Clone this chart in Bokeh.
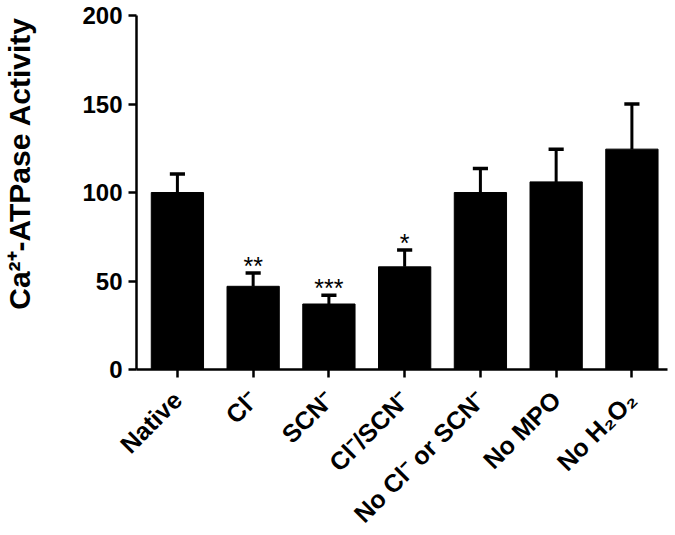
import math
from bokeh.plotting import figure
from bokeh.models import Range1d, FixedTicker, ColumnDataSource
from bokeh.core.properties import value
from bokeh.embed import file_html
from bokeh.resources import INLINE

categories = ["Native", "Cl\u207b", "SCN\u207b", "Cl\u207b/SCN\u207b",
              "No Cl\u207b or SCN\u207b", "No MPO", "No H\u2082O\u2082"]
means = [100, 47, 37, 58, 100, 106, 124.5]
errors = [10.5, 7.5, 5, 9.5, 13.5, 18.5, 25.5]
stars = ["", "**", "***", "*", "", "", ""]
y_ticks = [0, 50, 100, 150, 200]
y_label = "Ca\u00b2\u207a-ATPase Activity"

FONT = "Liberation Sans"

xs = list(range(len(categories)))
tops = [m + e for m, e in zip(means, errors)]
cap = 0.1

p = figure(frame_width=531, frame_height=354,
           min_border_left=136, min_border_right=8,
           min_border_top=15, min_border_bottom=166,
           x_range=Range1d(-0.54, 6.47), y_range=Range1d(0, 200),
           output_backend="svg", toolbar_location=None)

p.vbar(x=xs, top=means, bottom=0, width=0.69, fill_color="black", line_color="black")

src = ColumnDataSource(dict(x=xs, m=means, t=tops,
                            x0=[x - cap for x in xs], x1=[x + cap for x in xs],
                            sy=[t + 4 for t in tops], s=stars))
p.segment(x0="x", y0="m", x1="x", y1="t", source=src, line_color="black", line_width=3)
p.segment(x0="x0", y0="t", x1="x1", y1="t", source=src, line_color="black", line_width=3.5)
p.text(x="x", y="sy", text="s", source=src, text_align="center", text_baseline="alphabetic",
       text_font=value(FONT), text_font_size="25px", text_color="black")

p.grid.visible = False
p.outline_line_color = None
p.background_fill_color = "white"

for ax in (p.xaxis[0], p.yaxis[0]):
    ax.axis_line_width = 2.5
    ax.major_tick_line_width = 2.5
    ax.major_tick_out = 8
    ax.major_tick_in = 0
    ax.minor_tick_line_color = None
    ax.major_label_text_font = FONT
    ax.major_label_text_font_style = "bold"
    ax.major_label_text_color = "black"
    ax.axis_line_color = "black"
    ax.major_tick_line_color = "black"

p.yaxis.ticker = FixedTicker(ticks=y_ticks)
p.yaxis.major_label_text_font_size = "24px"
p.yaxis.major_label_standoff = 6
# leading no-break spaces shift the centred label up to match the reference
p.yaxis.axis_label = "\u00a0" * 7 + y_label
p.yaxis.axis_label_text_font = FONT
p.yaxis.axis_label_text_font_style = "bold"
p.yaxis.axis_label_text_font_size = "30px"
p.yaxis.axis_label_text_color = "black"
p.yaxis.axis_label_standoff = 43

p.xaxis.ticker = FixedTicker(ticks=xs)
p.xaxis.major_label_overrides = {i: c for i, c in enumerate(categories)}
p.xaxis.major_label_orientation = math.pi / 4
p.xaxis.major_label_text_font_size = "25px"
p.xaxis.major_label_standoff = 18

open("out.html", "w").write(file_html(p, INLINE))
